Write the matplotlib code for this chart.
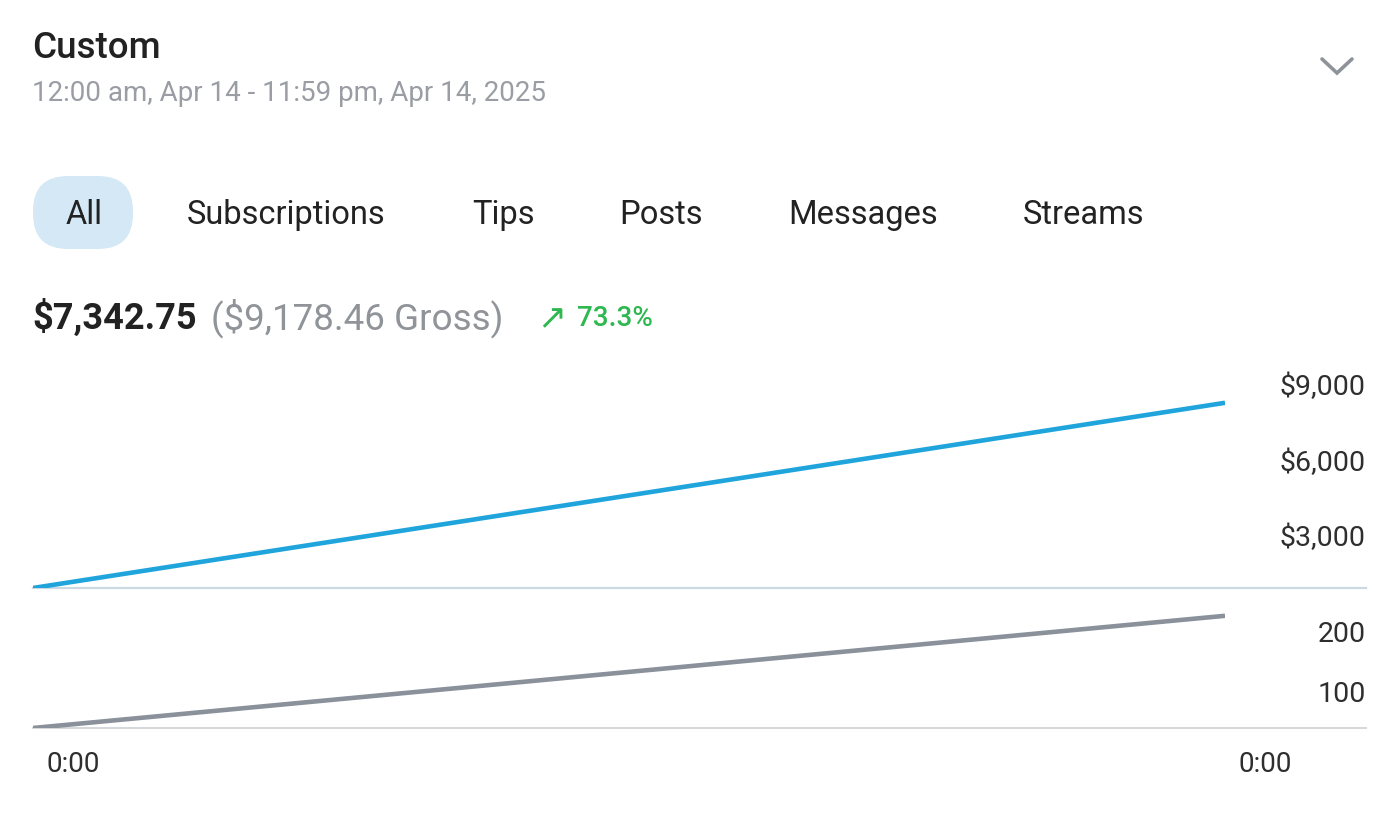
import matplotlib
matplotlib.use("Agg")
import matplotlib.pyplot as plt
from matplotlib.patches import FancyBboxPatch
from matplotlib.transforms import offset_copy

plt.rcParams['font.family'] = ['Roboto', 'DejaVu Sans']

# data
hours = [0, 24]
earnings = [0, 7342.75]
counts = [0, 187]
money_ticks = [3000, 6000, 9000]
money_labels = ['$3,000', '$6,000', '$9,000']
count_ticks = [100, 200]
count_labels = ['100', '200']
x_labels = ['0:00', '0:00']
tabs = ['All', 'Subscriptions', 'Tips', 'Posts', 'Messages', 'Streams']
tab_x = [84, 286, 503, 661, 863, 1084]

W, H = 1400, 829
fig = plt.figure(figsize=(W / 100, H / 100), dpi=100)
fig.patch.set_facecolor('white')

# overlay in pixel coordinates for the header part
bg = fig.add_axes([0, 0, 1, 1], zorder=0)
bg.set_xlim(0, W)
bg.set_ylim(H, 0)
bg.axis('off')

bg.text(32, 58, 'Custom', fontsize=26.5, fontweight='medium', color='#222222', va='baseline')
bg.text(32, 101, '12:00 am, Apr 14 - 11:59 pm, Apr 14, 2025', fontsize=20,
        color='#9a9ea4', va='baseline')
bg.plot([1322, 1337, 1352], [60, 74, 60], color='#8e9399', lw=2.6,
        solid_capstyle='round', solid_joinstyle='miter')

pill = FancyBboxPatch((33 + 35, 177 + 35), 100 - 70, 73 - 70,
                      boxstyle='round,pad=35', fc='#d4e9f5', ec='none')
bg.add_patch(pill)
for name, x in zip(tabs, tab_x):
    bg.text(x, 224, name, fontsize=23.5, color='#222222', ha='center', va='baseline')

bg.text(32, 329, '$7,342.75', fontsize=26, fontweight='bold', color='#222222', va='baseline')
bg.text(211, 329, '($9,178.46 Gross)', fontsize=26.5, color='#909499', va='baseline')
bg.text(537, 329, '↗', fontsize=25, color='#2fb750', va='baseline',
        family=['DejaVu Sans'])
bg.text(577, 326, '73.3%', fontsize=20, fontweight='medium', color='#2fb750', va='baseline')

# charts
left = 33 / W
width = (1225 - 33) / W
label_x = (1366 - 33) / (1225 - 33)

ax1 = fig.add_axes([left, (H - 589) / H, width, (589 - 362) / H], zorder=2)
ax2 = fig.add_axes([left, (H - 729) / H, width, (729 - 589) / H], zorder=2)

for ax in (ax1, ax2):
    ax.set_facecolor('none')
    for s in ax.spines.values():
        s.set_visible(False)
    ax.set_xticks([])
    ax.set_yticks([])
    ax.set_xlim(hours[0], hours[-1])

ax1.set_ylim(0, 9000)
ax2.set_ylim(0, 100 * (729 - 589) / 60)

ax1.plot(hours, earnings, color='#1fa4dc', lw=3.3, solid_capstyle='butt', zorder=3)
ax2.plot(hours, counts, color='#8a919b', lw=3.3, solid_capstyle='butt', zorder=3)

# baselines
ax1.plot([0, label_x], [0, 0], transform=ax1.get_yaxis_transform(), color='#cbd9e2',
         lw=1.6, clip_on=False, zorder=2)
ax2.plot([0, label_x], [0, 0], transform=ax2.get_yaxis_transform(), color='#d5d8db',
         lw=1.4, clip_on=False, zorder=2)

# y labels sit below their gridlines
for ax, ticks, labels in ((ax1, money_ticks, money_labels), (ax2, count_ticks, count_labels)):
    tr = offset_copy(ax.get_yaxis_transform(), fig=fig, y=-33, units='dots')
    for v, lab in zip(ticks, labels):
        ax.text(label_x, v, lab, transform=tr, ha='right', va='baseline',
                fontsize=20.5, color='#2e2e2e')

# x labels
for xv, lab, dx in zip(hours, x_labels, [13, 14]):
    tr = offset_copy(ax2.get_xaxis_transform(), fig=fig, x=dx, y=-43, units='dots')
    ax2.text(xv, 0, lab, transform=tr, ha='left', va='baseline', fontsize=20, color='#2e2e2e')

fig.savefig('out.png', dpi=100, facecolor='white')
